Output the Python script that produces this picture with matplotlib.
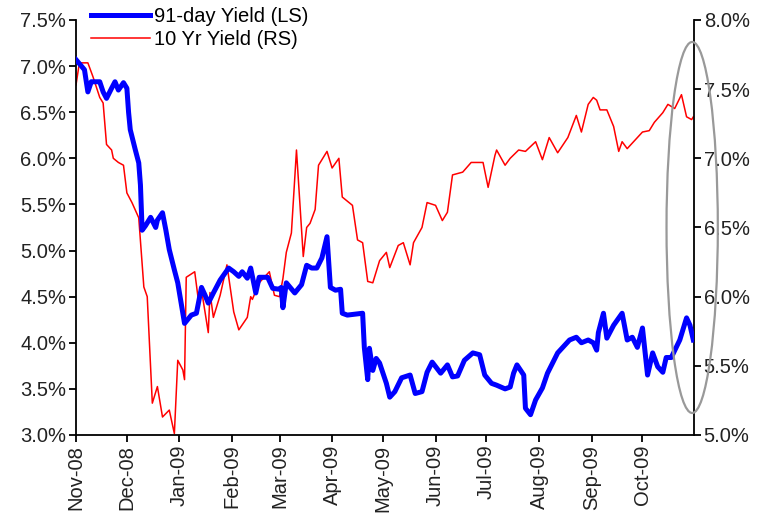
import numpy as np
import pandas as pd
import matplotlib
matplotlib.use("Agg")
import matplotlib.pyplot as plt
import matplotlib.dates as mdates
from matplotlib.patches import Ellipse
from matplotlib.ticker import FuncFormatter

plt.rcParams['font.family'] = ['Liberation Sans', 'DejaVu Sans']

start = pd.Timestamp('2008-11-01')

# 91-day T-bill yield (%), days counted from 1 Nov 2008
days_91 = [0, 5, 7, 9, 14, 16, 18, 21, 23, 25, 28, 30, 31, 32, 35, 37, 38, 39,
           41, 44, 47, 48, 51, 53, 55, 58, 60, 61, 64, 68, 71, 74, 76, 78, 81,
           85, 90, 93, 96, 98, 101, 103, 106, 108, 113, 116, 120, 121, 122, 124,
           129, 133, 136, 139, 142, 145, 148, 150, 153, 156, 157, 160, 169, 170,
           172, 173, 175, 177, 179, 183, 185, 188, 192, 197, 200, 204, 207, 210,
           215, 219, 222, 225, 229, 234, 238, 241, 245, 248, 253, 256, 258, 260,
           264, 265, 268, 271, 275, 278, 284, 287, 291, 295, 298, 302, 305, 307,
           308, 311, 313, 317, 322, 325, 328, 331, 334, 337, 340, 343, 346, 348,
           351, 356, 360, 362, 364]
yield_91 = [7.07, 6.96, 6.72, 6.83, 6.83, 6.72, 6.65, 6.76, 6.83, 6.74, 6.82,
            6.76, 6.50, 6.31, 6.09, 5.95, 5.71, 5.22, 5.27, 5.36, 5.25, 5.33,
            5.41, 5.22, 5.01, 4.79, 4.65, 4.54, 4.21, 4.30, 4.32, 4.60, 4.52,
            4.43, 4.54, 4.68, 4.81, 4.77, 4.72, 4.77, 4.70, 4.81, 4.54, 4.71,
            4.71, 4.59, 4.58, 4.60, 4.38, 4.65, 4.54, 4.63, 4.84, 4.81, 4.81,
            4.92, 5.15, 4.60, 4.57, 4.58, 4.32, 4.30, 4.32, 3.95, 3.60, 3.94,
            3.70, 3.83, 3.78, 3.56, 3.41, 3.47, 3.62, 3.65, 3.45, 3.47, 3.68,
            3.79, 3.67, 3.76, 3.63, 3.64, 3.81, 3.89, 3.87, 3.65, 3.56, 3.54,
            3.50, 3.52, 3.67, 3.76, 3.65, 3.29, 3.22, 3.38, 3.51, 3.67, 3.89,
            3.95, 4.03, 4.06, 4.00, 4.03, 4.00, 3.92, 4.11, 4.32, 4.05, 4.19,
            4.32, 4.03, 4.06, 3.95, 4.16, 3.65, 3.89, 3.74, 3.68, 3.84, 3.84,
            4.03, 4.27, 4.19, 4.03]

# 10-year G-sec yield (%), days counted from 1 Nov 2008
days_10 = [0, 2, 7, 10, 14, 16, 18, 21, 22, 25, 28, 30, 33, 37, 40, 42, 45, 48,
           51, 55, 58, 60, 63, 64, 65, 70, 72, 74, 78, 79, 81, 85, 89, 93, 96,
           101, 103, 104, 108, 114, 117, 120, 122, 124, 127, 130, 134, 136, 138,
           141, 143, 148, 151, 155, 157, 163, 166, 169, 172, 175, 179, 183, 185,
           190, 193, 197, 199, 204, 207, 212, 216, 219, 222, 228, 233, 240, 243,
           247, 248, 253, 256, 261, 265, 271, 275, 279, 284, 290, 295, 298, 302,
           305, 307, 309, 313, 317, 320, 322, 325, 331, 334, 338, 341, 346, 349,
           353, 357, 360, 363, 364]
yield_10 = [7.53, 7.69, 7.69, 7.59, 7.44, 7.40, 7.10, 7.06, 7.00, 6.97, 6.95,
            6.75, 6.68, 6.57, 6.07, 6.00, 5.23, 5.35, 5.13, 5.18, 5.01, 5.54,
            5.47, 5.40, 6.14, 6.18, 5.99, 6.05, 5.74, 6.03, 5.85, 6.01, 6.23,
            5.89, 5.76, 5.85, 6.00, 5.98, 6.10, 6.18, 6.01, 6.00, 6.13, 6.32,
            6.46, 7.06, 6.29, 6.50, 6.53, 6.63, 6.95, 7.05, 6.93, 7.00, 6.72,
            6.66, 6.41, 6.39, 6.11, 6.10, 6.26, 6.32, 6.21, 6.37, 6.39, 6.23,
            6.39, 6.50, 6.68, 6.66, 6.55, 6.61, 6.88, 6.90, 6.97, 6.97, 6.79,
            7.02, 7.06, 6.95, 7.00, 7.06, 7.05, 7.12, 6.99, 7.15, 7.04, 7.15,
            7.31, 7.19, 7.39, 7.44, 7.42, 7.35, 7.35, 7.23, 7.05, 7.12, 7.07,
            7.15, 7.19, 7.20, 7.26, 7.33, 7.39, 7.36, 7.46, 7.30, 7.28, 7.30]

dates_91 = start + pd.to_timedelta(days_91, unit='D')
dates_10 = start + pd.to_timedelta(days_10, unit='D')

fig = plt.figure(figsize=(7.63, 5.27), dpi=100)
ax = fig.add_axes([0.0996, 0.1746, 0.81, 0.7875])
ax2 = ax.twinx()

l1, = ax.plot(dates_91, yield_91, color='#0000FF', lw=3.6,
              solid_joinstyle='round', label='91-day Yield (LS)', zorder=3)
l2, = ax2.plot(dates_10, yield_10, color='#FF0000', lw=1.1,
               label='10 Yr Yield (RS)')
ax.set_zorder(ax2.get_zorder() + 1)
ax.patch.set_visible(False)

ax.set_xlim(start, start + pd.Timedelta(days=364.4))
ax.set_ylim(3.0, 7.5)
ax2.set_ylim(5.0, 8.0)
ax.set_yticks(np.arange(3.0, 7.51, 0.5))
ax2.set_yticks(np.arange(5.0, 8.01, 0.5))
pct = FuncFormatter(lambda v, p: f'{v:.1f}%')
ax.yaxis.set_major_formatter(pct)
ax2.yaxis.set_major_formatter(pct)

ax.xaxis.set_major_locator(mdates.MonthLocator())
ax.xaxis.set_major_formatter(mdates.DateFormatter('%b-%y'))
for lab in ax.get_xticklabels():
    lab.set_rotation(90)

for a in (ax, ax2):
    a.spines['top'].set_visible(False)
    for s in a.spines.values():
        s.set_linewidth(1.3)
    a.tick_params(labelsize=14.5, length=5, width=1.3, colors='black',
                  labelcolor='#222222', direction='out', pad=2)
ax.spines['right'].set_visible(False)
ax2.spines['left'].set_visible(False)
ax2.spines['bottom'].set_visible(False)

# grey ring around the latest readings
ring = Ellipse((0.997, 0.50), 0.083, 0.894, transform=ax.transAxes,
               fill=False, edgecolor='#999999', lw=1.6, clip_on=False,
               zorder=5)
ax.add_patch(ring)

fig.legend(handles=[l1, l2], loc='upper left',
           bbox_to_anchor=(0.117, 0.99), frameon=False, fontsize=14.5,
           handlelength=2.9, handletextpad=0.2, labelspacing=0.2,
           borderaxespad=0.0, borderpad=0.1)

fig.savefig('out.png', dpi=100)
